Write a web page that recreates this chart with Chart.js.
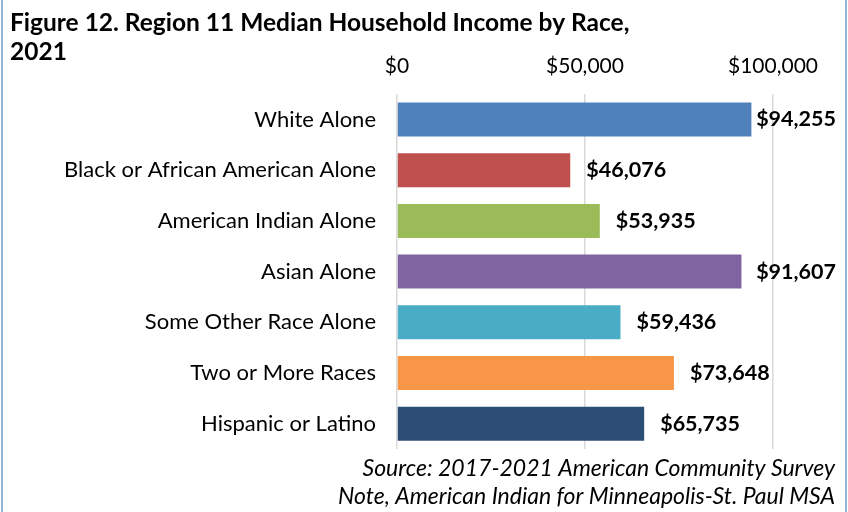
<!DOCTYPE html>
<html>
<head>
<meta charset="utf-8">
<script src="https://cdn.jsdelivr.net/npm/chart.js@4.4.1/dist/chart.umd.min.js"></script>
<style>
  html, body { margin: 0; padding: 0; background: #fff; }
  #wrap { position: relative; width: 848px; height: 512px; }
  #wrap:before, #wrap:after { content: ""; position: absolute; top: 0; bottom: 0; width: 2px; background: #95b3d7; }
  #wrap:before { left: 1px; }
  #wrap:after { left: 845px; }
</style>
</head>
<body>
<div id="wrap"><canvas id="myChart" width="848" height="512"></canvas></div>
<script>
const categories = [
  "White Alone",
  "Black or African American Alone",
  "American Indian Alone",
  "Asian Alone",
  "Some Other Race Alone",
  "Two or More Races",
  "Hispanic or Latino"
];
const incomes = [94255, 46076, 53935, 91607, 59436, 73648, 65735];
const barColors = ["#4f81bd", "#c0504d", "#9bbb59", "#8064a2", "#4bacc6", "#f79646", "#2c4d75"];
const tickValues = [0, 50000, 100000];
const titleLines = ["Figure 12. Region 11 Median Household Income by Race,", "2021"];
const noteLines = [
  "Source: 2017-2021 American Community Survey",
  "Note, American Indian for Minneapolis-St. Paul MSA"
];

const FONT = "Lato, 'Open Sans', sans-serif";
const money = v => "$" + Number(v).toLocaleString("en-US");

// titel dan catatan sumber
const textPlugin = {
  id: "textPlugin",
  afterDraw(chart) {
    const c = chart.ctx;
    c.save();
    c.fillStyle = "#000";
    c.textBaseline = "middle";
    c.textAlign = "left";
    c.font = "bold 24.5px " + FONT;
    titleLines.forEach((t, i) => c.fillText(t, 10, 23 + i * 29));
    c.textAlign = "right";
    c.font = "italic 23px " + FONT;
    noteLines.forEach((t, i) => c.fillText(t, 835, 469 + i * 28));
    c.restore();
  }
};

// label nilai di ujung batang
const valueLabels = {
  id: "valueLabels",
  afterDatasetsDraw(chart) {
    const c = chart.ctx;
    const meta = chart.getDatasetMeta(0);
    c.save();
    c.fillStyle = "#000";
    c.font = "bold 21.5px " + FONT;
    c.textBaseline = "middle";
    c.textAlign = "left";
    meta.data.forEach((bar, i) => {
      const txt = money(incomes[i]);
      const w = c.measureText(txt).width;
      let x = bar.x + 16;
      if (x + w > 836) x = 836 - w;
      c.fillText(txt, x, bar.y);
    });
    c.restore();
  }
};

const ctx = document.getElementById("myChart").getContext("2d");

const chart = new Chart(ctx, {
  type: "bar",
  data: {
    labels: categories,
    datasets: [{
      data: incomes,
      backgroundColor: barColors,
      borderWidth: 0,
      categoryPercentage: 1,
      barPercentage: 0.67
    }]
  },
  options: {
    indexAxis: "y",
    responsive: false,
    animation: false,
    devicePixelRatio: 1,
    layout: { padding: { top: 39, bottom: 63, left: 0, right: 75 } },
    plugins: {
      legend: { display: false },
      tooltip: { enabled: false },
      title: { display: false }
    },
    scales: {
      x: {
        position: "top",
        min: 0,
        max: 100000,
        afterBuildTicks: s => { s.ticks = tickValues.map(v => ({ value: v })); },
        grid: { color: "#d9d9d9", lineWidth: 1.5, drawTicks: false },
        border: { display: false },
        ticks: {
          padding: 15,
          color: "#000",
          font: { family: FONT, size: 21 },
          callback: v => money(v)
        }
      },
      y: {
        afterFit: s => { s.width = 397; },
        grid: { display: false },
        border: { display: false },
        ticks: {
          padding: 13,
          color: "#000",
          font: { family: FONT, size: 22 }
        }
      }
    }
  },
  plugins: [textPlugin, valueLabels]
});
</script>
</body>
</html>
